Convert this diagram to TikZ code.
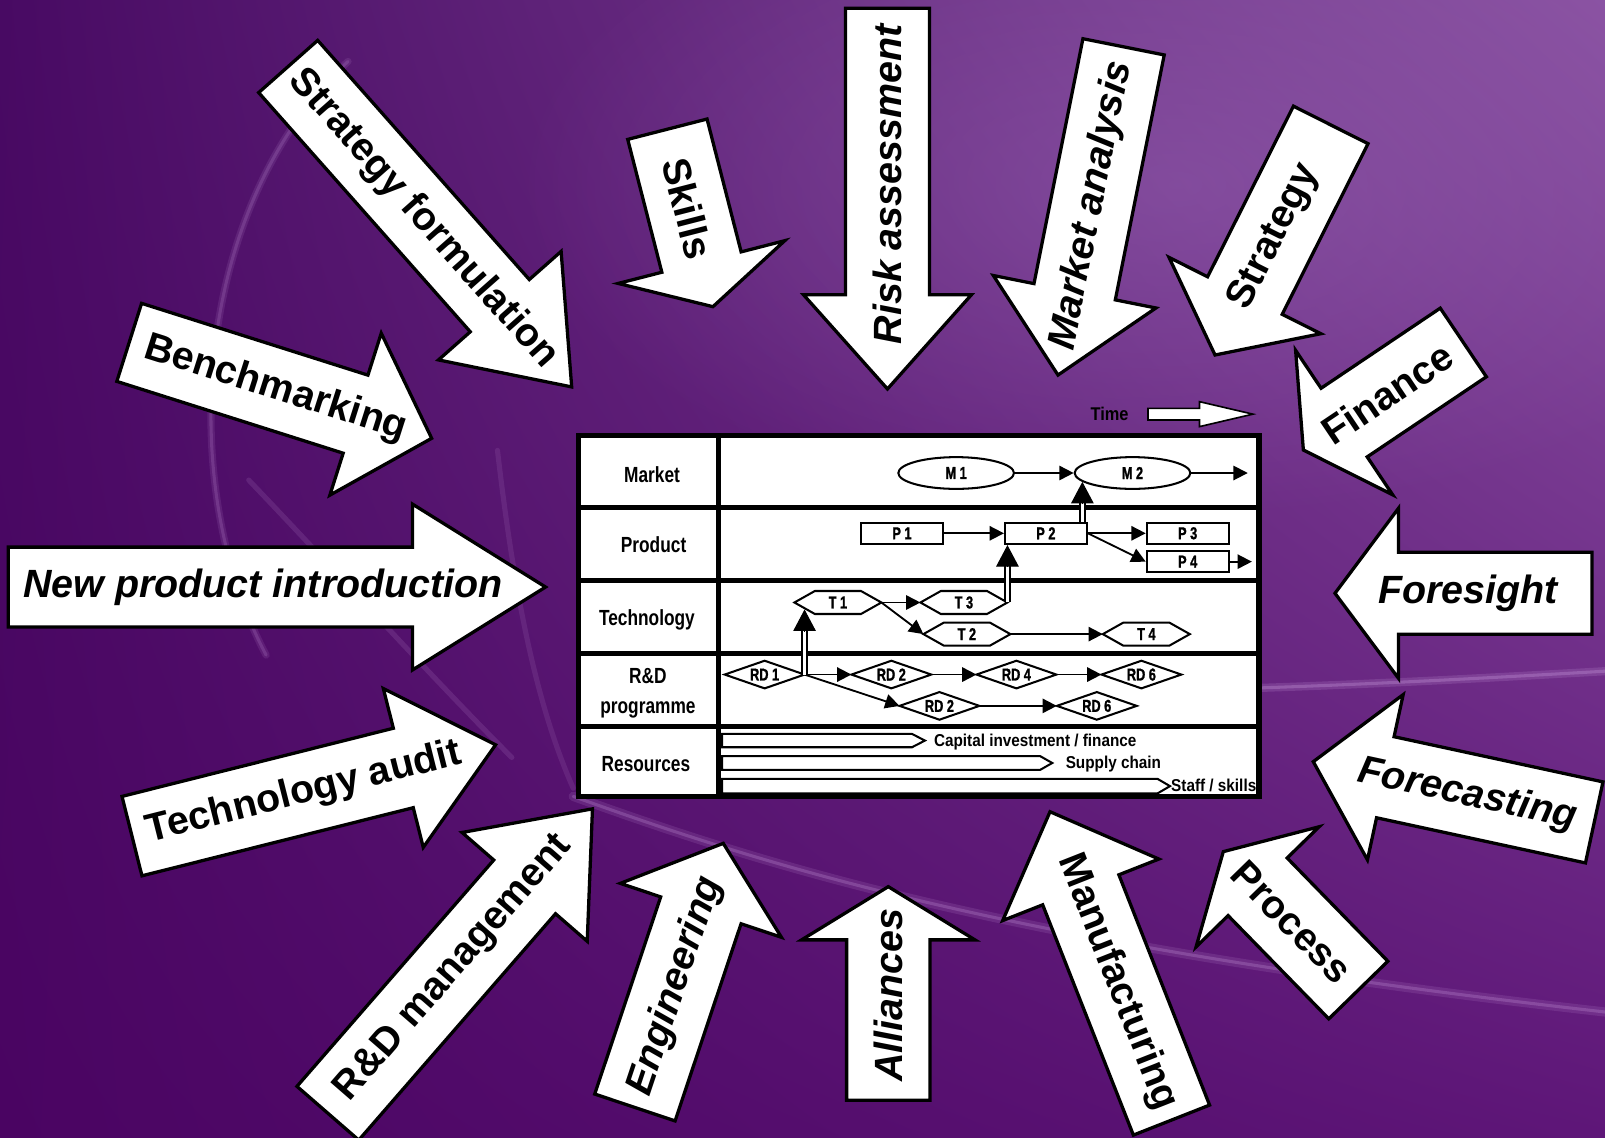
\documentclass[tikz,border=0pt]{standalone}
\usepackage{fontspec}
\setmainfont{Liberation Sans}
\newfontfamily\headfont{Liberation Sans}[FakeStretch=0.79]
\newfontfamily\elemfont{Liberation Sans}[FakeStretch=0.74,FakeBold=1.2]
\newfontfamily\resfont{Liberation Sans}[FakeStretch=0.89]
\usetikzlibrary{arrows.meta,calc,shapes.geometric,fadings,shadings}

\definecolor{bgUL}{RGB}{72,10,99}
\definecolor{bgUR}{RGB}{138,82,162}
\definecolor{bgLL}{RGB}{74,4,98}
\definecolor{bgLR}{RGB}{94,22,120}
\definecolor{glowc}{RGB}{150,100,178}
\definecolor{streakc}{RGB}{205,160,225}

\tikzfading[name=glowfade, inner color=transparent!0, outer color=transparent!100]

% #1 tip x, #2 tip y, #3 direction, #4 length, #5 head length, #6 half body width, #7 half head width, #8 text distance from tip, #9 node spec
\newcommand{\bigarrow}[9]{%
  \begin{scope}[shift={(#1,#2)},rotate=#3]
    \filldraw[bigarrowshape] (-#4,-#6) -- (-#5,-#6) -- (-#5,-#7) -- (0,0) -- (-#5,#7) -- (-#5,#6) -- (-#4,#6) -- cycle;
    \node at (-#8,0) #9;
  \end{scope}}

\newcommand{\hexnode}[4]{%
  \node[hexbox] (#1) at (#2,#3) {#4};
  \draw[elemline] (#1.west) -- ($(#1.north west)+(20,0)$) -- ($(#1.north east)+(-20,0)$) -- (#1.east) -- ($(#1.south east)+(-20,0)$) -- ($(#1.south west)+(20,0)$) -- cycle;}

\newcommand{\dianode}[4]{%
  \node[diabox] (#1) at (#2,#3) {#4};
  \draw[elemline] (#1.west) -- (#1.north) -- (#1.east) -- (#1.south) -- cycle;}

\begin{document}
\begin{tikzpicture}[x=1pt,y=-1pt,
  bigarrowshape/.style={fill=white, draw=black, line width=3.2pt, line join=miter},
  biglbl/.style={font=\bfseries\fontsize{38.5}{44}\selectfont, inner sep=0},
  bigital/.style={font=\bfseries\itshape\fontsize{38.5}{44}\selectfont, inner sep=0},
  tableline/.style={line width=4.5pt},
  headlbl/.style={font=\headfont\bfseries\fontsize{21.4}{29.3}\selectfont, inner sep=0, anchor=base},
  elemfnt/.style={font=\elemfont\bfseries\fontsize{16.8}{20}\selectfont},
  elemline/.style={line width=2pt, line join=miter},
  ell/.style={ellipse, draw, line width=2pt, minimum width=113pt, minimum height=31pt, inner sep=0, elemfnt},
  elembox/.style={rectangle, draw, line width=2pt, minimum width=80pt, minimum height=21pt, inner sep=0, elemfnt},
  hexbox/.style={rectangle, minimum width=85pt, minimum height=22.5pt, inner sep=0, outer sep=0, elemfnt},
  diabox/.style={rectangle, minimum width=78pt, minimum height=27pt, inner sep=0, outer sep=0, elemfnt},
  conn/.style={line width=1.8pt, -{Triangle[length=14pt,width=14pt]}},
  dshaft/.style={double=white, double distance=3pt, line width=1.7pt},
  dhead/.style={line width=1pt, -{Triangle[length=21pt,width=22pt]}},
  resbar/.style={draw, fill=white, line width=2pt, line join=miter},
  reslbl/.style={font=\resfont\bfseries\fontsize{16.8}{20}\selectfont, inner sep=0, anchor=base west},
  timelbl/.style={font=\resfont\bfseries\fontsize{18}{21}\selectfont, inner sep=0, anchor=base},
  streak/.style={draw=streakc, line cap=round}
]
\useasboundingbox (0,0) rectangle (1568,1111);

% ---------- background ----------
\shade[upper left=bgUL, upper right=bgUR, lower left=bgLL, lower right=bgLR] (0,0) rectangle (1568,1111);
\fill[glowc, path fading=glowfade, fill opacity=0.45] (1150,180) ellipse (650 and 330);
\begin{scope}
\clip (0,0) rectangle (1568,1111);
\draw[streak, line width=7, draw opacity=0.12] (340,60) .. controls (190,200) and (170,470) .. (260,640);
\draw[streak, line width=3, draw opacity=0.18] (340,60) .. controls (190,200) and (170,470) .. (260,640);
\draw[streak, line width=8, draw opacity=0.18] (1232,672) .. controls (1350,668) and (1460,662) .. (1580,655);
\draw[streak, line width=3, draw opacity=0.3] (1232,672) .. controls (1350,668) and (1460,662) .. (1580,655);
\draw[streak, line width=9, draw opacity=0.14] (560,778) .. controls (760,850) and (1000,925) .. (1580,990);
\draw[streak, line width=3, draw opacity=0.25] (560,778) .. controls (760,850) and (1000,925) .. (1580,990);
\draw[streak, line width=5, draw opacity=0.14] (243,469) .. controls (330,560) and (420,660) .. (500,740);
\draw[streak, line width=5, draw opacity=0.12] (486,440) .. controls (500,560) and (520,680) .. (560,770);
\end{scope}

% ---------- big arrows ----------
\bigarrow{533}{573.5}{0}{525}{130}{39}{81}{276}{[bigital] (npi) {New product introduction}}
\bigarrow{558.5}{378}{-48.5}{418}{106}{38.5}{80}{219}{[biglbl,rotate=-48.5] (stratform) {Strategy formulation}}
\bigarrow{421.7}{428.2}{-17.6}{310}{78}{40}{83}{160}{[biglbl,rotate=-17.6] (bench) {Benchmarking}}
\bigarrow{696.5}{299.6}{-75.6}{179}{45}{40}{84}{99}{[biglbl,rotate=-75.6] (skills) {Skills}}
\bigarrow{867}{380}{-90}{372}{92}{41}{82}{200}{[bigital,rotate=90] (risk) {Risk assessment}}
\bigarrow{1033.6}{366.4}{-101.3}{327}{83}{40.5}{81}{169}{[bigital,rotate=78.7] (market) {Market analysis}}
\bigarrow{1187}{346.8}{-116.7}{251.6}{65}{40.8}{83}{129}{[biglbl,rotate=63.3] (strategy) {Strategy}}
\bigarrow{1273.3}{439.6}{-146.1}{188.3}{48}{40.4}{85}{99}{[biglbl,rotate=33.9] (finance) {Finance}}
\bigarrow{1304.2}{579.6}{180}{251}{62}{40}{83}{130}{[bigital] (foresight) {Foresight}}
\bigarrow{1283}{744.1}{167.8}{280.8}{72}{40.5}{82.6}{154}{[bigital,rotate=-12.2] (forecast) {Forecasting}}
\bigarrow{1195.1}{832}{134.3}{188.9}{48}{40.3}{84}{96}{[biglbl,rotate=-45.7] (process) {Process}}
\bigarrow{1025.8}{793}{111.5}{323.8}{82}{40}{82}{179}{[biglbl,rotate=-68.5] (manuf) {Manufacturing}}
\bigarrow{867.8}{866.2}{90}{208.6}{52}{40.7}{84.7}{106}{[bigital,rotate=90] (alliances) {Alliances}}
\bigarrow{706.6}{823.9}{71.5}{272.1}{69}{41.4}{83}{147}{[bigital,rotate=71.5] (engineering) {Engineering}}
\bigarrow{578.8}{790.2}{49}{394}{101}{40}{81}{206}{[biglbl,rotate=49] (rdm) {R\&D management}}
\bigarrow{484.2}{727.6}{14.1}{366.3}{93}{40}{80}{193}{[biglbl,rotate=14.1] (techaudit) {Technology audit}}

% ---------- time arrow ----------
\node[timelbl] (time) at (1084,411) {Time};
\draw[fill=white, line width=1.6pt, line join=miter] (1121.5,398.9) -- (1171.8,398.9) -- (1171.8,392.4) -- (1224,404.6) -- (1171.8,416.8) -- (1171.8,410.3) -- (1121.5,410.3) -- cycle;

% ---------- roadmap table ----------
\node[draw, line width=5pt, fill=white, minimum width=664.5pt, minimum height=352.5pt, inner sep=0, outer sep=0, anchor=north west] (tbl) at (565.5,425.5) {};
\draw[tableline] (702,425.5) -- (702,778);
\draw[tableline] (565.5,495.5) -- (1230,495.5);
\draw[tableline] (565.5,567.3) -- (1230,567.3);
\draw[tableline] (565.5,638.3) -- (1230,638.3);
\draw[tableline] (565.5,710) -- (1230,710);

\node[headlbl] (hMarket) at (637,471.5) {Market};
\node[headlbl] (hProduct) at (638.5,539.6) {Product};
\node[headlbl] (hTech) at (632,611) {Technology};
\node[headlbl, anchor=center, align=center] (hRD) at (633,677.4) {R\&D\\programme};
\node[headlbl] (hRes) at (631,754) {Resources};

% market
\node[ell] (M1) at (934.1,462.1) {M 1};
\node[ell] (M2) at (1106.4,462.1) {M 2};
\coordinate (Mend) at (1219,462.1);
% product
\node[elembox] (P1) at (881.2,521) {P 1};
\node[elembox] (P2) at (1021.8,521) {P 2};
\node[elembox] (P3) at (1160.3,521) {P 3};
\node[elembox] (P4) at (1160.3,548.7) {P 4};
\coordinate (Pend) at (1223,548.7);
% technology
\hexnode{T1}{818.6}{588.6}{T 1}
\hexnode{T3}{941.7}{588.6}{T 3}
\hexnode{T2}{944.6}{619.5}{T 2}
\hexnode{T4}{1119.9}{619.5}{T 4}
% R&D
\dianode{RD1}{747}{659}{RD 1}
\dianode{RDa}{870.8}{659}{RD 2}
\dianode{RDc}{993}{659}{RD 4}
\dianode{RDe}{1115.1}{659}{RD 6}
\dianode{RDb}{917.8}{689.6}{RD 2}
\dianode{RDf}{1071.5}{689.6}{RD 6}

% connectors
\draw[conn] (M1) -- (M2);
\draw[conn] (M2) -- (Mend);
\draw[conn] (P1) -- (P2);
\draw[conn] (P2) -- (P3);
\draw[conn] (P2.east) -- (P4.west);
\draw[conn] (P4) -- (Pend);
\draw[conn] (T1.east) -- (T3.west);
\draw[conn] (T1.east) -- (T2.west);
\draw[conn] (T2.east) -- (T4.west);
\draw[conn] (RD1.east) -- (RDa.west);
\draw[conn] (RDa.east) -- (RDc.west);
\draw[conn] (RDc.east) -- (RDe.west);
\draw[conn] (RD1.east) -- (RDb.west);
\draw[conn] (RDb.east) -- (RDf.west);

% double (linking) arrows
\coordinate (m2hit) at (M2.190);
\draw[dshaft] (P2.north -| m2hit) -- ($(m2hit)+(0,15)$);
\draw[dhead] ($(m2hit)+(0,21)$) -- (m2hit);
\coordinate (p2hit) at (T3.east |- P2.south);
\draw[dshaft] (T3.east) -- ($(p2hit)+(0,15)$);
\draw[dhead] ($(p2hit)+(0,21)$) -- (p2hit);
\coordinate (t1hit) at ($(RD1.east |- T1.center)+(0,6.8)$);
\draw[dshaft] (RD1.east) -- ($(t1hit)+(0,15)$);
\draw[dhead] ($(t1hit)+(0,21)$) -- (t1hit);

% resources
\draw[resbar] (705.5,717) -- (891,717) -- (903.6,723.5) -- (891,730) -- (705.5,730) -- cycle;
\node[reslbl] (capital) at (912.3,729) {Capital investment / finance};
\draw[resbar] (705.5,738.6) -- (1016,738.6) -- (1028,745.4) -- (1016,752.2) -- (705.5,752.2) -- cycle;
\node[reslbl] (supply) at (1041,751) {Supply chain};
\draw[resbar] (705.5,761) -- (1131,761) -- (1143,768) -- (1131,775) -- (705.5,775) -- cycle;
\node[reslbl] (staff) at (1144,773.2) {Staff / skills};
\end{tikzpicture}
\end{document}
